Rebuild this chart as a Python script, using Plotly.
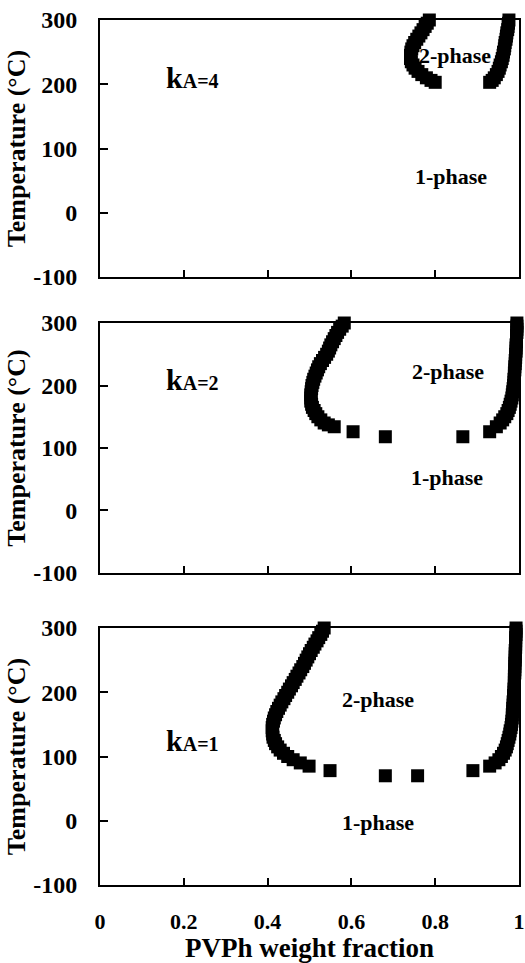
import plotly.graph_objects as go

# ---------------- data ----------------
# kA = 4
k4_left_T = [300, 295, 290, 285, 280, 275, 270, 265, 260, 255, 250, 245, 240, 235, 230, 225, 220, 215, 210, 206, 203]
k4_left_x = [0.786, 0.781, 0.776, 0.771, 0.766, 0.761, 0.756, 0.751, 0.747, 0.744, 0.742, 0.741, 0.741, 0.743,
             0.747, 0.752, 0.759, 0.768, 0.779, 0.790, 0.800]
k4_right_T = [300, 295, 290, 285, 280, 275, 270, 265, 260, 255, 250, 245, 240, 235, 230, 225, 220, 215, 210, 206, 203]
k4_right_x = [0.976, 0.975, 0.974, 0.973, 0.971, 0.970, 0.969, 0.967, 0.966, 0.965, 0.963, 0.962, 0.960, 0.958,
              0.955, 0.953, 0.950, 0.946, 0.941, 0.936, 0.930]

# kA = 2
k2_left_T = [300, 295, 290, 285, 280, 275, 270, 265, 260, 255, 250, 245, 240, 235, 230, 225, 220, 215, 210, 205,
             200, 195, 190, 185, 180, 175, 170, 165, 160, 155, 150, 145, 140, 137, 134, 126, 118]
k2_left_x = [0.583, 0.578, 0.572, 0.567, 0.563, 0.559, 0.555, 0.551, 0.548, 0.545, 0.541, 0.536, 0.531, 0.526,
             0.522, 0.519, 0.516, 0.513, 0.510, 0.508, 0.506, 0.505, 0.504, 0.503, 0.503, 0.503, 0.505, 0.507,
             0.511, 0.515, 0.520, 0.527, 0.535, 0.545, 0.559, 0.604, 0.681]
k2_right_T = [300, 295, 290, 285, 280, 275, 270, 265, 260, 255, 250, 245, 240, 235, 230, 225, 220, 215, 210, 205,
              200, 195, 190, 185, 180, 175, 170, 165, 160, 155, 150, 145, 140, 134, 126, 118]
k2_right_x = [0.995, 0.995, 0.995, 0.995, 0.994, 0.994, 0.994, 0.993, 0.993, 0.993, 0.992, 0.992, 0.991, 0.991,
              0.990, 0.990, 0.989, 0.989, 0.988, 0.988, 0.987, 0.986, 0.985, 0.984, 0.983, 0.981, 0.979, 0.977,
              0.974, 0.971, 0.966, 0.961, 0.955, 0.946, 0.930, 0.866]

# kA = 1
k1_left_T = [300, 295, 290, 285, 280, 275, 270, 265, 260, 255, 250, 245, 240, 235, 230, 225, 220, 215, 210, 205,
             200, 195, 190, 185, 180, 175, 170, 165, 160, 155, 150, 145, 140, 135, 130, 125, 120, 115, 110, 105,
             100, 95, 90, 85, 78, 70]
k1_left_x = [0.535, 0.531, 0.527, 0.522, 0.518, 0.513, 0.509, 0.504, 0.500, 0.496, 0.492, 0.488, 0.484, 0.479,
             0.475, 0.470, 0.466, 0.461, 0.457, 0.452, 0.448, 0.443, 0.439, 0.434, 0.430, 0.426, 0.422, 0.419,
             0.416, 0.414, 0.412, 0.411, 0.411, 0.412, 0.413, 0.416, 0.419, 0.424, 0.430, 0.438, 0.448, 0.461,
             0.478, 0.499, 0.549, 0.681]
k1_right_T = [300, 295, 290, 285, 280, 275, 270, 265, 260, 255, 250, 245, 240, 235, 230, 225, 220, 215, 210, 205,
              200, 195, 190, 185, 180, 175, 170, 165, 160, 155, 150, 145, 140, 135, 130, 125, 120, 115, 110, 105,
              100, 95, 90, 85, 78, 70]
k1_right_x = [0.993, 0.993, 0.993, 0.992, 0.992, 0.992, 0.992, 0.991, 0.991, 0.991, 0.991, 0.990, 0.990, 0.990,
              0.990, 0.989, 0.989, 0.989, 0.989, 0.988, 0.988, 0.987, 0.987, 0.986, 0.986, 0.985, 0.985, 0.984,
              0.984, 0.983, 0.982, 0.981, 0.979, 0.978, 0.976, 0.974, 0.972, 0.970, 0.967, 0.963, 0.958, 0.952,
              0.943, 0.930, 0.890, 0.758]

x_tickvals = [0, 0.2, 0.4, 0.6, 0.8, 1]
x_ticktext = ["0", "0.2", "0.4", "0.6", "0.8", "1"]
y_tickvals = [-100, 0, 100, 200, 300]
y_ticktext = ["-100", "0", "100", "200", "300"]

panel_k = ["4", "2", "1"]

# ---------------- figure ----------------
FONT = "Liberation Serif, Times New Roman, serif"
fig = go.Figure()

series = [
    (k4_left_x, k4_left_T, k4_right_x, k4_right_T),
    (k2_left_x, k2_left_T, k2_right_x, k2_right_T),
    (k1_left_x, k1_left_T, k1_right_x, k1_right_T),
]
marker = dict(symbol="square", size=13, color="black", line=dict(width=0))
for i, (lx, lT, rx, rT) in enumerate(series):
    ax = "" if i == 0 else str(i + 1)
    for xs, ts in ((lx, lT), (rx, rT)):
        fig.add_trace(go.Scatter(x=xs, y=ts, mode="markers", marker=marker,
                                 xaxis="x" + ax, yaxis="y" + ax,
                                 cliponaxis=False, showlegend=False))

domains = [[0.7029, 1.0], [0.3607, 0.6497], [0.0, 0.2971]]
for i, dom in enumerate(domains):
    sfx = "" if i == 0 else str(i + 1)
    last = (i == 2)
    fig.update_layout(**{
        "xaxis" + sfx: dict(
            domain=[0, 1], range=[0, 1], anchor="y" + sfx,
            showgrid=False, zeroline=False, showline=True, mirror=True,
            linecolor="black", linewidth=2,
            ticks="inside", ticklen=7, tickwidth=2, tickcolor="black",
            tickvals=x_tickvals, ticktext=x_ticktext, showticklabels=last,
            ticklabelstandoff=16,
            tickfont=dict(family=FONT, size=22, color="black", weight="bold"),
            title=dict(text="PVPh weight fraction" if last else "",
                       font=dict(family=FONT, size=27, color="black", weight="bold"),
                       standoff=12),
            automargin=False,
        ),
        "yaxis" + sfx: dict(
            domain=dom, range=[-100, 300], anchor="x" + sfx,
            showgrid=False, zeroline=False, showline=True, mirror=True,
            linecolor="black", linewidth=2,
            ticks="inside", ticklen=8, tickwidth=2, tickcolor="black",
            tickvals=y_tickvals, ticktext=y_ticktext,
            ticklabelstandoff=16,
            tickfont=dict(family=FONT, size=24, color="black", weight="bold"),
            title=dict(text="Temperature (°C)",
                       font=dict(family=FONT, size=26, color="black", weight="bold"),
                       standoff=0),
            automargin=False,
        ),
    })

# annotations
k_pos = [210, 210, 125]
two_phase = [(0.847, 245), (0.83, 222), (0.664, 188)]
one_phase = [(0.837, 56), (0.827, 52), (0.664, -2)]
for i in range(3):
    sfx = "" if i == 0 else str(i + 1)
    fig.add_annotation(x=0.153, y=k_pos[i], xref="x" + sfx, yref="y" + sfx,
                       xanchor="left", yanchor="middle", showarrow=False,
                       text="<b><span style='font-size:30px'>k</span>"
                            "<span style='font-size:20px'>A=" + panel_k[i] + "</span></b>",
                       font=dict(family=FONT, color="black"))
    fig.add_annotation(x=two_phase[i][0], y=two_phase[i][1], xref="x" + sfx, yref="y" + sfx,
                       showarrow=False, text="<b>2-phase</b>",
                       font=dict(family=FONT, size=22, color="black"))
    fig.add_annotation(x=one_phase[i][0], y=one_phase[i][1], xref="x" + sfx, yref="y" + sfx,
                       showarrow=False, text="<b>1-phase</b>",
                       font=dict(family=FONT, size=22, color="black"))

fig.update_layout(
    width=525, height=963,
    margin=dict(l=100, r=6, t=20, b=78, autoexpand=False),
    paper_bgcolor="white", plot_bgcolor="white",
    font=dict(family=FONT, color="black"),
    showlegend=False,
)

fig.write_html("out.html", config={"displayModeBar": False})
